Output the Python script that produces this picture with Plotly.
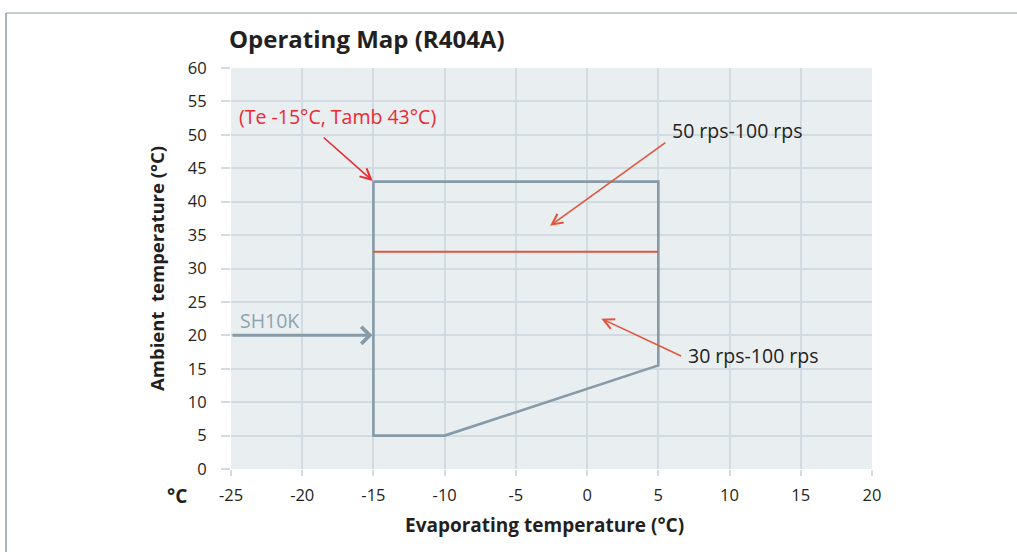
import plotly.graph_objects as go

# ---- data ----
envelope_x = [-15, 5, 5, -10, -15, -15]
envelope_y = [43, 43, 15.5, 5, 5, 43]
speed_limit_x = [-15, 5]
speed_limit_y = [32.5, 32.5]
x_ticks = [-25, -20, -15, -10, -5, 0, 5, 10, 15, 20]
y_ticks = [0, 5, 10, 15, 20, 25, 30, 35, 40, 45, 50, 55, 60]

corner_point = (-15, 43)
corner_tail = (-18.6, 49.8)
corner_label = "(Te -15°C, Tamb 43°C)"
corner_label_pos = (-24.6, 52.8)
upper_zone_label = "50 rps-100 rps"
upper_zone_label_pos = (5.85, 50.7)
upper_zone_tip = (-2.6, 36.4)
upper_zone_tail = (5.6, 49.0)
lower_zone_label = "30 rps-100 rps"
lower_zone_label_pos = (6.95, 16.95)
lower_zone_tip = (1.0, 22.5)
lower_zone_tail = (6.7, 16.8)
sh_label = "SH10K"
sh_label_pos = (-24.5, 22.2)
sh_y = 20
sh_x_from = -25
sh_x_to = -15

GRAY = "#869ba7"
RED_LINE = "#e2553b"
RED_TXT = "#ea2a31"
GRID = "#d2dbe1"
TXT = "#231f20"
FONT = "Open Sans"
TFS = 19.5

fig = go.Figure()
fig.add_trace(go.Scatter(x=envelope_x, y=envelope_y, mode="lines",
                         line=dict(color=GRAY, width=2.6), hoverinfo="skip"))
fig.add_trace(go.Scatter(x=speed_limit_x, y=speed_limit_y, mode="lines",
                         line=dict(color=RED_LINE, width=2), hoverinfo="skip"))

PW = 872 - 231
PH = 469 - 68

ann = []
ann.append(dict(x=corner_point[0], y=corner_point[1], xref="x", yref="y",
                ax=corner_tail[0], ay=corner_tail[1], axref="x", ayref="y", text="",
                showarrow=True, arrowhead=5, arrowsize=1.3, arrowwidth=1.6,
                arrowcolor=RED_TXT, standoff=1))
ann.append(dict(x=corner_label_pos[0], y=corner_label_pos[1], xref="x", yref="y",
                text=corner_label, showarrow=False, xanchor="left", yanchor="middle",
                font=dict(family=FONT, size=TFS, color=RED_TXT)))
ann.append(dict(x=upper_zone_tip[0], y=upper_zone_tip[1], xref="x", yref="y",
                ax=upper_zone_tail[0], ay=upper_zone_tail[1], axref="x", ayref="y",
                text="", showarrow=True, arrowhead=5, arrowsize=1.3,
                arrowwidth=1.6, arrowcolor=RED_LINE))
ann.append(dict(x=upper_zone_label_pos[0], y=upper_zone_label_pos[1], xref="x", yref="y",
                text=upper_zone_label, showarrow=False, xanchor="left", yanchor="middle",
                font=dict(family=FONT, size=TFS, color=TXT)))
ann.append(dict(x=lower_zone_tip[0], y=lower_zone_tip[1], xref="x", yref="y",
                ax=lower_zone_tail[0], ay=lower_zone_tail[1], axref="x", ayref="y",
                text="", showarrow=True, arrowhead=5, arrowsize=1.3,
                arrowwidth=1.6, arrowcolor=RED_LINE))
ann.append(dict(x=lower_zone_label_pos[0], y=lower_zone_label_pos[1], xref="x", yref="y",
                text=lower_zone_label, showarrow=False, xanchor="left", yanchor="middle",
                font=dict(family=FONT, size=TFS, color=TXT)))
ann.append(dict(x=sh_x_to, y=sh_y, xref="x", yref="y",
                ax=sh_x_from, ay=sh_y, axref="x", ayref="y", text="",
                showarrow=True, arrowhead=4, arrowsize=1.1, arrowwidth=3,
                arrowcolor=GRAY, standoff=1))
ann.append(dict(x=sh_label_pos[0], y=sh_label_pos[1], xref="x", yref="y", text=sh_label,
                showarrow=False, xanchor="left", yanchor="middle",
                font=dict(family=FONT, size=TFS, color="#8fa4b0")))
# °C unit label
ann.append(dict(x=(177 - 231) / PW, y=(469 - 496) / PH, xref="paper", yref="paper",
                xanchor="center", yanchor="middle", text="<b>°C</b>",
                showarrow=False, font=dict(family=FONT, size=19, color=TXT)))
# x-axis title (slightly left of centre, as in the original)
ann.append(dict(x=(544 - 231) / PW, y=(469 - 525) / PH, xref="paper", yref="paper",
                xanchor="center", yanchor="middle",
                text="<b>Evaporating temperature (°C)</b>",
                showarrow=False, font=dict(family=FONT, size=19, color=TXT)))

BORDER = "#8a9fa9"
fig.update_layout(
    width=1017, height=552,
    margin=dict(l=231, r=145, t=68, b=83),
    paper_bgcolor="white", plot_bgcolor="#e9eef1",
    showlegend=False,
    title=dict(text="<b>Operating Map (R404A)</b>", x=229 / 1017, xanchor="left",
               y=1 - 40 / 552, yanchor="middle",
               font=dict(family=FONT, size=24, color=TXT)),
    font=dict(family=FONT, color=TXT, size=16.5),
    annotations=ann,
    shapes=[
        dict(type="line", xref="paper", yref="paper", x0=-225 / PW, x1=786 / PW,
             y0=(469 - 13) / PH, y1=(469 - 13) / PH,
             line=dict(color=BORDER, width=1.2)),
        dict(type="line", xref="paper", yref="paper", x0=-225 / PW, x1=-225 / PW,
             y0=(469 - 13) / PH, y1=(469 - 560) / PH,
             line=dict(color=BORDER, width=1.5)),
    ],
)
fig.update_xaxes(range=[-25, 20], tickvals=x_ticks, ticktext=[str(v) for v in x_ticks],
                 showgrid=True, gridcolor=GRID, gridwidth=1.5, zeroline=False,
                 ticks="outside", ticklen=6, tickcolor=GRID, tickwidth=1.5,
                 showline=False, ticklabelstandoff=5, tickfont=dict(size=16.5, color=TXT))
fig.update_yaxes(range=[0, 60], tickvals=y_ticks, ticktext=[str(v) for v in y_ticks],
                 showgrid=True, gridcolor=GRID, gridwidth=1.5, zeroline=False,
                 ticks="outside", ticklen=9, tickcolor=GRID, tickwidth=1.5,
                 showline=False, ticklabelstandoff=11, tickfont=dict(size=16.5, color=TXT),
                 title=dict(text="<b>Ambient  temperature (°C)</b>", standoff=18,
                            font=dict(size=18.5, color=TXT)))

fig.write_html("out.html", config={"displayModeBar": False},
               post_script="document.body.style.margin='0px';")
